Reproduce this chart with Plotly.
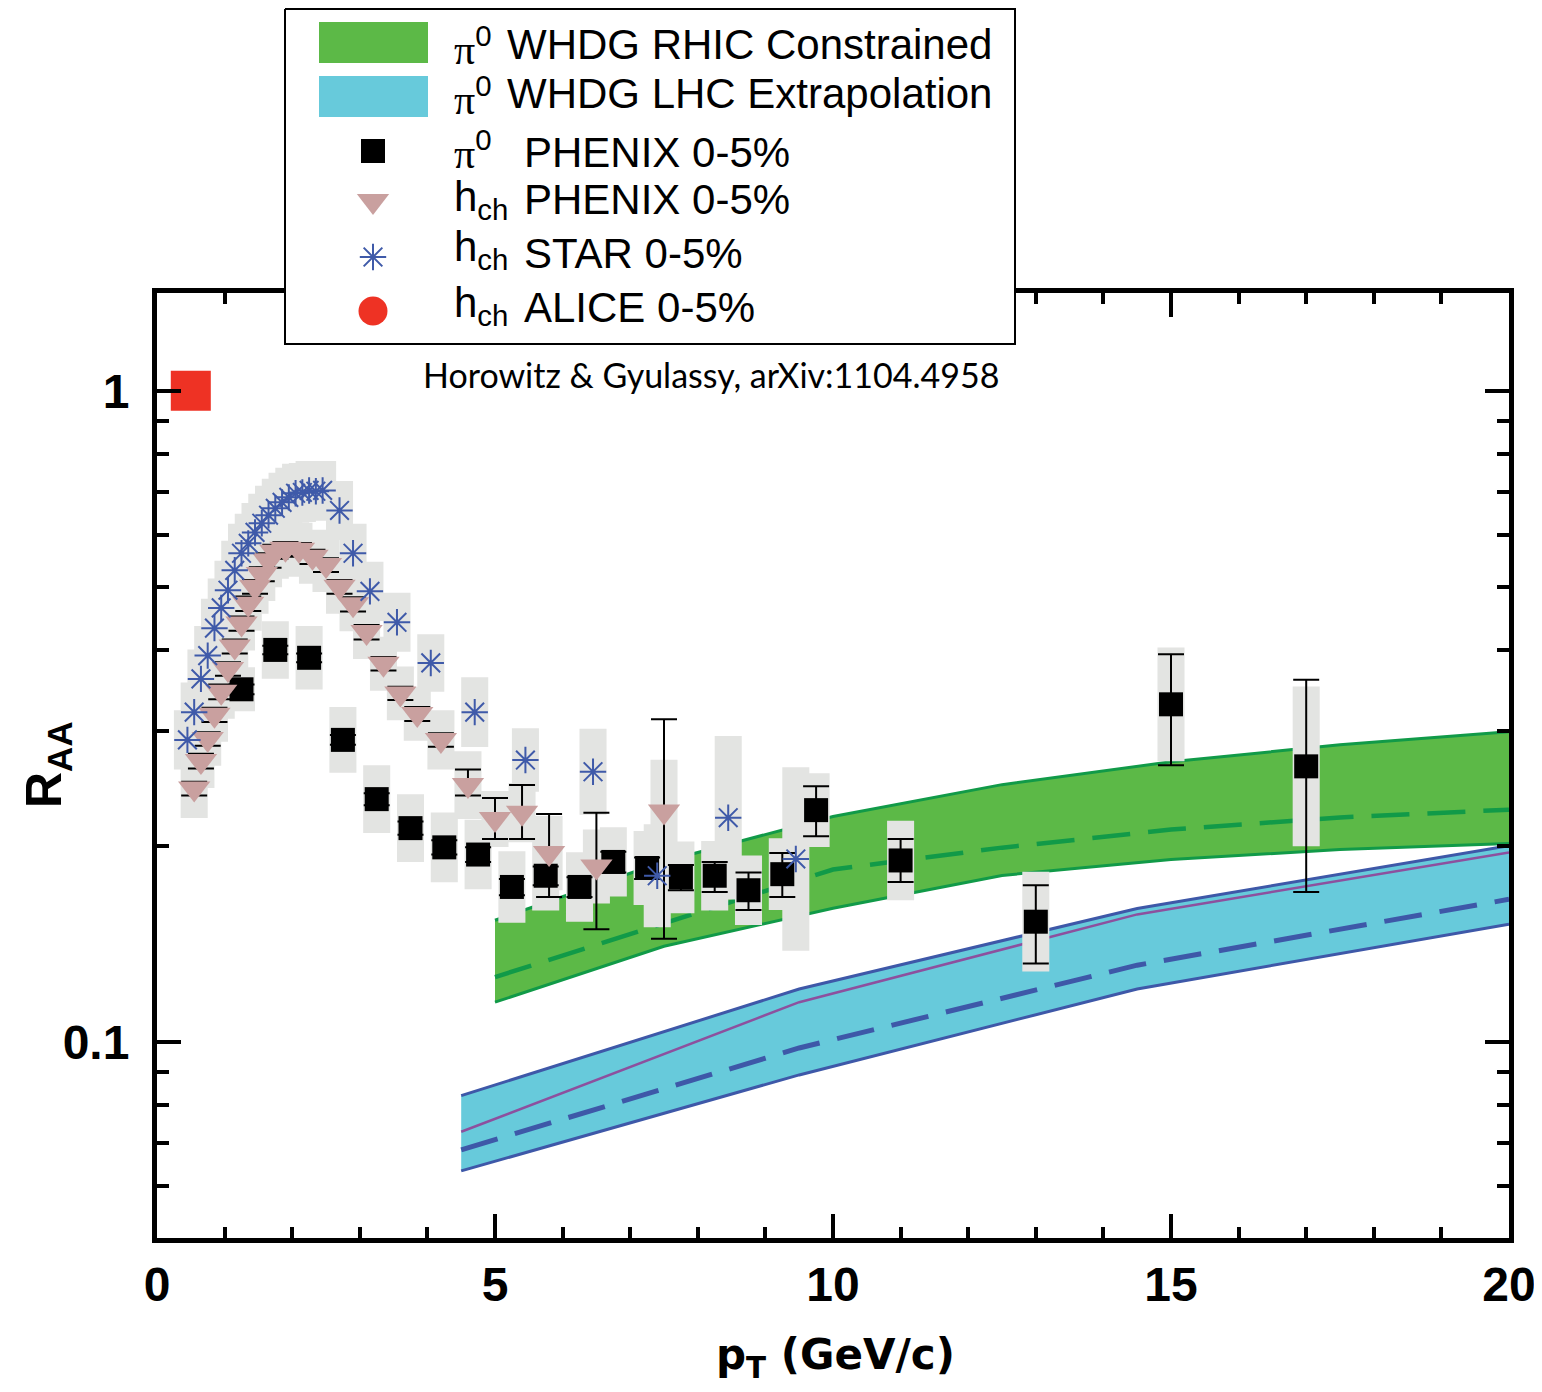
import numpy as np
import plotly.graph_objects as go

REF_W, REF_H = 1542, 1392
OFF = 8  # page body margin offset
W, H = REF_W - OFF, REF_H - OFF

# ---------------- data ----------------
# PHENIX pi0 0-5%
pi0_pt = [1.25, 1.75, 2.25, 2.75, 3.25, 3.75, 4.25, 4.75, 5.25, 5.75, 6.25, 6.75, 7.25, 7.75,
          8.25, 8.75, 9.25, 9.75, 11.0, 13.0, 15.0, 17.0]
pi0_raa = [0.348, 0.400, 0.389, 0.291, 0.236, 0.213, 0.199, 0.194, 0.173, 0.180, 0.173, 0.189, 0.185, 0.179,
           0.180, 0.171, 0.181, 0.227, 0.190, 0.153, 0.330, 0.265]
pi0_err_hi = [0.006, 0.006, 0.006, 0.005, 0.005, 0.005, 0.005, 0.005, 0.005, 0.006, 0.006, 0.007, 0.007, 0.008,
              0.009, 0.011, 0.014, 0.020, 0.015, 0.021, 0.064, 0.095]
pi0_err_lo = [0.006, 0.006, 0.006, 0.005, 0.005, 0.005, 0.005, 0.005, 0.005, 0.006, 0.006, 0.007, 0.007, 0.008,
              0.010, 0.0115, 0.014, 0.020, 0.014, 0.021, 0.064, 0.095]
pi0_sys = [0.081, 0.107, 0.119, 0.123, 0.127, 0.127, 0.131, 0.131, 0.135, 0.131, 0.131, 0.13, 0.14, 0.135,
           0.131, 0.131, 0.135, 0.139, 0.151, 0.193, 0.223, 0.326]

# PHENIX charged hadrons 0-5%
hch_pt = [0.55, 0.65, 0.75, 0.85, 0.95, 1.05, 1.15, 1.25, 1.35, 1.45, 1.55, 1.65, 1.75, 1.9, 2.1,
          2.3, 2.5, 2.7, 2.9, 3.1, 3.35, 3.6, 3.85, 4.2, 4.6, 5.0, 5.4, 5.8, 6.5, 7.5]
hch_raa = [0.245, 0.270, 0.292, 0.318, 0.345, 0.374, 0.405, 0.439, 0.471, 0.500, 0.523, 0.549, 0.566, 0.572, 0.570,
           0.556, 0.540, 0.500, 0.470, 0.426, 0.381, 0.343, 0.319, 0.291, 0.248, 0.220, 0.225, 0.195, 0.186, 0.226]
hch_err_hi = [0.006, 0.007, 0.007, 0.008, 0.009, 0.009, 0.010, 0.011, 0.012, 0.012, 0.013, 0.014, 0.014, 0.014, 0.014,
              0.014, 0.013, 0.012, 0.012, 0.011, 0.009, 0.008, 0.008, 0.007, 0.014, 0.017, 0.023, 0.029, 0.039, 0.087]
hch_err_lo = [0.006, 0.007, 0.007, 0.008, 0.009, 0.009, 0.010, 0.011, 0.012, 0.012, 0.013, 0.014, 0.014, 0.014, 0.014,
              0.014, 0.013, 0.012, 0.012, 0.011, 0.009, 0.008, 0.008, 0.007, 0.009, 0.015, 0.020, 0.028, 0.037, 0.082]
hch_sys = [0.11, 0.10, 0.10, 0.10, 0.10, 0.10, 0.10, 0.10, 0.10, 0.10, 0.10, 0.10, 0.10, 0.10, 0.10,
           0.10, 0.10, 0.10, 0.10, 0.10, 0.10, 0.10, 0.10, 0.11, 0.127, 0.104, 0.11, 0.14, 0.14, 0.20]

# STAR charged hadrons 0-5%
star_pt = [0.45, 0.55, 0.65, 0.75, 0.85, 0.95, 1.05, 1.15, 1.25, 1.35, 1.45, 1.55, 1.65, 1.75, 1.85, 1.95,
           2.05, 2.15, 2.25, 2.35, 2.45, 2.7, 2.9, 3.15, 3.55, 4.05, 4.7, 5.45, 6.45, 7.4, 8.45, 9.45]
star_raa = [0.291, 0.321, 0.361, 0.392, 0.432, 0.464, 0.494, 0.530, 0.563, 0.583, 0.606, 0.626, 0.644, 0.660,
            0.674, 0.686, 0.696, 0.698, 0.703, 0.701, 0.703, 0.655, 0.563, 0.492, 0.441, 0.382, 0.321, 0.271,
            0.260, 0.180, 0.221, 0.191]
star_sys = [0.11, 0.11, 0.11, 0.11, 0.11, 0.11, 0.11, 0.11, 0.11, 0.11, 0.11, 0.11, 0.11, 0.11, 0.11, 0.11,
            0.11, 0.11, 0.11, 0.11, 0.11, 0.11, 0.11, 0.11, 0.11, 0.107, 0.131, 0.119, 0.164, 0.20, 0.335, 0.383]

# ALICE charged hadrons 0-5%
alice_pt = [0.5]
alice_raa = [1.0]

# WHDG RHIC constrained (green band)
g_pt = [5.0, 7.5, 10.0, 12.5, 15.0, 17.5, 20.0]
g_hi = [0.1538, 0.1893, 0.2219, 0.2484, 0.2693, 0.2860, 0.2995]
g_mid = [0.1258, 0.1521, 0.1840, 0.1988, 0.2119, 0.2212, 0.2274]
g_lo = [0.1151, 0.1403, 0.1604, 0.1802, 0.1906, 0.1975, 0.2017]

# WHDG LHC extrapolation (blue band)
b_pt = [4.5, 9.5, 14.5, 20.0]
b_hi = [0.0827, 0.1206, 0.1603, 0.2002]
b_mid = [0.0683, 0.0979, 0.1312, 0.1656]
b_lo = [0.0634, 0.0890, 0.1206, 0.1517]
b_purple = [0.0728, 0.1151, 0.1570, 0.1954]

x_ticks = [0, 5, 10, 15, 20]
x_minor = [1, 2, 3, 4, 6, 7, 8, 9, 11, 12, 13, 14, 16, 17, 18, 19]
y_ticks = [0.1, 1]
y_tick_text = ["0.1", "1"]
y_minor = [0.06, 0.07, 0.08, 0.09, 0.2, 0.3, 0.4, 0.5, 0.6, 0.7, 0.8, 0.9]

PI = '<span style="font-family:Liberation Serif">π</span>'
legend_labels = [(PI + "<sup>0</sup>", "WHDG RHIC Constrained"),
                 (PI + "<sup>0</sup>", "WHDG LHC Extrapolation"),
                 (PI + "<sup>0</sup>", "PHENIX 0-5%"),
                 ("h<sub>ch</sub>", "PHENIX 0-5%"),
                 ("h<sub>ch</sub>", "STAR 0-5%"),
                 ("h<sub>ch</sub>", "ALICE 0-5%")]

# ---------------- styles ----------------
GREEN_FILL = "#5cb947"
GREEN_LINE = "#119a48"
BLUE_FILL = "#67cadb"
BLUE_LINE = "#3e58a8"
PURPLE = "#8d509e"
GRAY = "#e3e4e2"
PINK = "#c9a09f"
STARBLUE = "#3f5aa9"
RED = "#ee3224"
BOX_HW = 0.2


def PX(x):
    return (x - OFF) / W


def PY(y):
    return 1 - (y - OFF) / H


fig = go.Figure()

# green band
fig.add_trace(go.Scatter(x=g_pt, y=g_lo, mode="lines", line=dict(width=0), hoverinfo="skip"))
fig.add_trace(go.Scatter(x=g_pt, y=g_hi, mode="lines", line=dict(width=0), fill="tonexty",
                         fillcolor=GREEN_FILL, hoverinfo="skip"))
fig.add_trace(go.Scatter(x=g_pt, y=g_hi, mode="lines", line=dict(color=GREEN_LINE, width=3)))
fig.add_trace(go.Scatter(x=g_pt, y=g_lo, mode="lines", line=dict(color=GREEN_LINE, width=3)))
fig.add_trace(go.Scatter(x=g_pt, y=g_mid, mode="lines",
                         line=dict(color=GREEN_LINE, width=4.5, dash="38px,18px")))

# blue band
fig.add_trace(go.Scatter(x=b_pt, y=b_lo, mode="lines", line=dict(width=0), hoverinfo="skip"))
fig.add_trace(go.Scatter(x=b_pt, y=b_hi, mode="lines", line=dict(width=0), fill="tonexty",
                         fillcolor=BLUE_FILL, hoverinfo="skip"))
fig.add_trace(go.Scatter(x=b_pt, y=b_hi, mode="lines", line=dict(color=BLUE_LINE, width=3)))
fig.add_trace(go.Scatter(x=b_pt, y=b_lo, mode="lines", line=dict(color=BLUE_LINE, width=3)))
fig.add_trace(go.Scatter(x=b_pt, y=b_purple, mode="lines", line=dict(color=PURPLE, width=2.5)))
fig.add_trace(go.Scatter(x=b_pt, y=b_mid, mode="lines",
                         line=dict(color=BLUE_LINE, width=5, dash="38px,18px")))


def sys_boxes(xs, ys, fr):
    bx, by = [], []
    for x, y, f in zip(xs, ys, fr):
        lo, hi = y / (1 + f), y * (1 + f)
        bx += [x - BOX_HW, x + BOX_HW, x + BOX_HW, x - BOX_HW, x - BOX_HW, None]
        by += [lo, lo, hi, hi, lo, None]
    return go.Scatter(x=bx, y=by, mode="lines", fill="toself", fillcolor=GRAY,
                      line=dict(width=0, color=GRAY), hoverinfo="skip")


fig.add_trace(sys_boxes(star_pt, star_raa, star_sys))
fig.add_trace(sys_boxes(hch_pt, hch_raa, hch_sys))
fig.add_trace(sys_boxes(pi0_pt, pi0_raa, pi0_sys))

# data points
fig.add_trace(go.Scatter(x=pi0_pt, y=pi0_raa, mode="markers",
                         marker=dict(symbol="square", size=24, color="black", line=dict(width=0)),
                         error_y=dict(type="data", symmetric=False, array=pi0_err_hi, arrayminus=pi0_err_lo,
                                      color="black", thickness=2, width=13)))
fig.add_trace(go.Scatter(x=hch_pt, y=hch_raa, mode="markers",
                         marker=dict(symbol="triangle-down", size=28, color=PINK, line=dict(width=0)),
                         error_y=dict(type="data", symmetric=False, array=hch_err_hi, arrayminus=hch_err_lo,
                                      color="black", thickness=2, width=13)))
fig.add_trace(go.Scatter(x=star_pt, y=star_raa, mode="markers",
                         marker=dict(symbol="asterisk-open", size=22, color=STARBLUE,
                                     line=dict(color=STARBLUE, width=2))))
fig.add_trace(go.Scatter(x=alice_pt, y=alice_raa, mode="markers",
                         marker=dict(symbol="square", size=40, color=RED, line=dict(width=0))))

# ---------------- legend (pixel-space overlay, reference pixel coords) ----------------
def L(**kw):
    kw.setdefault("hoverinfo", "skip")
    return go.Scatter(xaxis="x2", yaxis="y2", **kw)


fig.add_trace(L(x=[285, 1015, 1015, 285, 285], y=[9, 9, 344, 344, 9], mode="lines", fill="toself",
                fillcolor="white", line=dict(color="black", width=2)))
fig.add_trace(L(x=[319, 428, 428, 319, 319], y=[22, 22, 63, 63, 22], mode="lines", fill="toself",
                fillcolor=GREEN_FILL, line=dict(width=0)))
fig.add_trace(L(x=[319, 428, 428, 319, 319], y=[76, 76, 117, 117, 76], mode="lines", fill="toself",
                fillcolor=BLUE_FILL, line=dict(width=0)))
fig.add_trace(L(x=[373], y=[151], mode="markers",
                marker=dict(symbol="square", size=24, color="black", line=dict(width=0))))
fig.add_trace(L(x=[373], y=[201], mode="markers",
                marker=dict(symbol="triangle-down", size=28, color=PINK, line=dict(width=0))))
fig.add_trace(L(x=[373], y=[257], mode="markers",
                marker=dict(symbol="asterisk-open", size=22, color=STARBLUE, line=dict(color=STARBLUE, width=2))))
fig.add_trace(L(x=[373], y=[311], mode="markers",
                marker=dict(symbol="circle", size=29, color=RED, line=dict(width=0))))

annotations = []
row_mid = [44, 94, 152, 199, 253, 308]
pre_mid = [46, 96, 150, 199, 250, 305]
rest_x = [506, 506, 523, 523, 523, 523]
LEGFONT = dict(family="Liberation Sans, Arial", size=42, color="black")
for i, (pre, rest) in enumerate(legend_labels):
    annotations.append(dict(text=pre, x=PX(453), y=PY(pre_mid[i]), xref="paper", yref="paper",
                            xanchor="left", yanchor="middle", showarrow=False, font=LEGFONT, borderpad=0))
    annotations.append(dict(text=rest, x=PX(rest_x[i]), y=PY(row_mid[i]), xref="paper", yref="paper",
                            xanchor="left", yanchor="middle", showarrow=False, font=LEGFONT, borderpad=0))

annotations.append(dict(text="Horowitz & Gyulassy, arXiv:1104.4958", x=PX(421), y=PY(374),
                        xref="paper", yref="paper", xanchor="left", yanchor="middle", showarrow=False,
                        font=dict(family="Lato", size=34, color="black")))
annotations.append(dict(text="<b>p<sub>T</sub> (GeV/c)</b>", x=PX(836), y=PY(1357),
                        xref="paper", yref="paper", xanchor="center", yanchor="middle", showarrow=False,
                        font=dict(family="DejaVu Sans", size=42, color="black")))
annotations.append(dict(text="<b>R<sub>AA</sub></b>", x=PX(48), y=PY(765), textangle=-90,
                        xref="paper", yref="paper", xanchor="center", yanchor="middle", showarrow=False,
                        font=dict(family="Liberation Sans, Arial", size=50, color="black")))

TICKFONT = dict(family="Liberation Sans, Arial", size=48, color="black", weight="bold")

fig.update_layout(
    width=W, height=H,
    margin=dict(l=0, r=0, t=0, b=0),
    paper_bgcolor="white", plot_bgcolor="rgba(0,0,0,0)",
    showlegend=False,
    annotations=annotations,
    xaxis=dict(domain=[PX(157), PX(1509)], range=[0, 20], tickmode="array", tickvals=x_ticks,
               ticks="inside", ticklen=24, tickwidth=4, tickcolor="black",
               showline=True, linewidth=5, linecolor="black", mirror="ticks",
               showgrid=False, zeroline=False, tickfont=TICKFONT, automargin=False,
               minor=dict(tickmode="array", tickvals=x_minor, ticks="inside", ticklen=11, tickwidth=4,
                          tickcolor="black", showgrid=False)),
    yaxis=dict(domain=[PY(1238), PY(293)], type="log", range=[np.log10(0.05), np.log10(1.413)],
               tickmode="array", tickvals=y_ticks, ticktext=y_tick_text,
               ticks="inside", ticklen=24, tickwidth=4, tickcolor="black",
               showline=True, linewidth=5, linecolor="black", mirror="ticks",
               showgrid=False, zeroline=False, tickfont=TICKFONT, automargin=False,
               ticklabelstandoff=13,
               minor=dict(tickmode="array", tickvals=y_minor, ticks="inside", ticklen=12, tickwidth=4,
                          tickcolor="black", showgrid=False)),
    xaxis2=dict(domain=[0, 1], range=[OFF, REF_W], visible=False, anchor="y2", fixedrange=True),
    yaxis2=dict(domain=[0, 1], range=[REF_H, OFF], visible=False, anchor="x2", fixedrange=True),
)

fig.write_html("out.html")
